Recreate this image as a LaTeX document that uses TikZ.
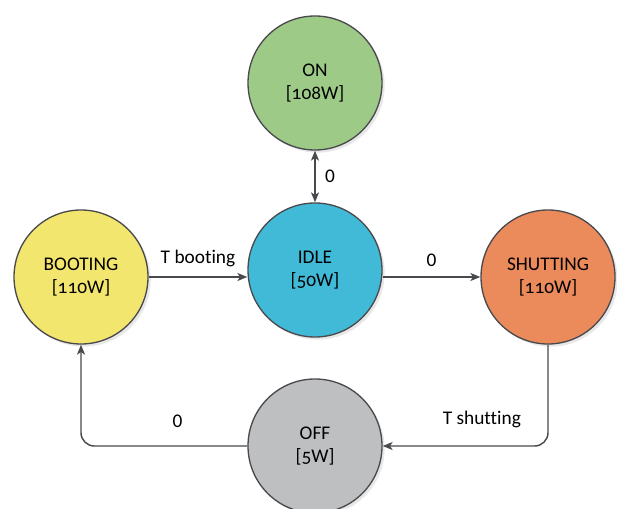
\documentclass[tikz,border=0pt]{standalone}
\usepackage{fontspec}
\setmainfont{Carlito}[Ligatures=NoCommon]
\newfontfamily\statefont[Numbers=OldStyle, Ligatures=NoCommon]{Carlito}
\usepackage{xcolor}
\usepackage{tikz}
\usetikzlibrary{arrows,arrows.meta,positioning,shadows}

\definecolor{onfill}{HTML}{9DCB87}
\definecolor{idlefill}{HTML}{41BAD7}
\definecolor{bootfill}{HTML}{F3E66E}
\definecolor{shutfill}{HTML}{EB8A5B}
\definecolor{offfill}{HTML}{BEBFC1}
\definecolor{edgegray}{HTML}{4A4A4E}

\begin{document}
\begin{tikzpicture}[
    x=0.75pt, y=-0.75pt,
    state/.style = {circle, draw=edgegray, line width=1pt, minimum size=100.5pt,
      align=center, font=\statefont\fontsize{14.5}{17}\selectfont,
      drop shadow={shadow xshift=2pt, shadow yshift=-2pt, fill=black!18}},
    lbl/.style = {font=\fontsize{14.5}{17}\selectfont, inner sep=1pt},
    >={Stealth[length=7.5pt, width=6pt, inset=2pt]}
  ]
  \useasboundingbox (0,0) rectangle (617,509);

  % states
  \node[state, fill=onfill]   (on)       at (315,83)  {ON\\{[}108W{]}};
  \node[state, fill=idlefill] (idle)     at (315,270) {IDLE\\{[}50W{]}};
  \node[state, fill=bootfill] (booting)  at (81,277)  {BOOTING\\{[}110W{]}};
  \node[state, fill=shutfill] (shutting) at (548,277) {SHUTTING\\{[}110W{]}};
  \node[state, fill=offfill]  (off)      at (315,446) {OFF\\{[}5W{]}};

  % transitions
  \begin{scope}[draw=edgegray, line width=1.1pt, rounded corners=10pt]
    \draw[<->] (on) -- node[lbl, right=6pt] (l0) {0} (idle);
    \draw[->] (booting.east) -- node[lbl, above=6pt] (lboot) {T booting} (booting.east -| idle.west);
    \draw[->] (shutting.west -| idle.east) -- node[lbl, above=6pt] (lidle) {0} (shutting.west);
    \draw[->] (shutting.south) |- node[lbl, pos=0.7, above=12pt] (lshut) {T shutting} (off.east);
    \draw[->] (off.west) -| node[lbl, pos=0.21, above=12pt] (loff) {0} (booting.south);
  \end{scope}
\end{tikzpicture}
\end{document}
